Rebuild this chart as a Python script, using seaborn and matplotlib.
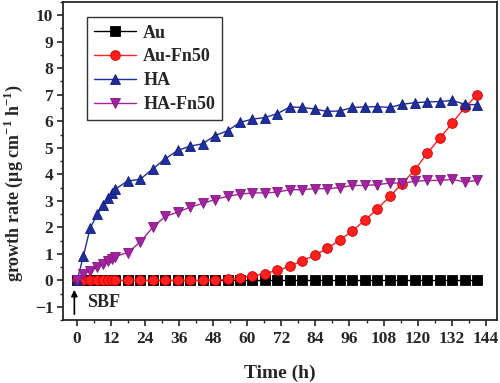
import pandas as pd
import matplotlib
matplotlib.use("Agg")
import matplotlib.pyplot as plt
import seaborn as sns
from matplotlib.ticker import MultipleLocator

# sampling times (h), same for every sample
time_h = [0, 2.2, 4.6, 7.1, 9.0, 10.7, 12.3, 13.3,
          17.8, 22.2, 26.6, 31.0, 35.4, 39.8, 44.2, 48.6, 53.0, 57.4,
          61.8, 66.2, 70.6, 75.0, 79.4, 83.8, 88.2, 92.6, 97.0, 101.4,
          105.8, 110.2, 114.6, 119.0, 123.4, 127.8, 132.2, 136.6, 141.0]

au = [0.0, 0.0, 0.0, 0.0, 0.0, 0.0, 0.0, 0.0,
      0.0, 0.0, 0.0, 0.0, 0.0, 0.0, 0.0, 0.0, 0.0, 0.0,
      0.0, 0.0, 0.0, 0.0, 0.0, 0.0, 0.0, 0.0, 0.0, 0.0,
      0.0, 0.0, 0.0, 0.0, 0.0, 0.0, 0.0, 0.0, 0.0]

au_fn50 = [0.0, 0.0, 0.0, 0.0, 0.0, 0.0, 0.0, 0.0,
           0.0, 0.0, 0.0, 0.0, 0.0, 0.0, 0.0, 0.01, 0.04, 0.10,
           0.16, 0.26, 0.38, 0.53, 0.74, 0.95, 1.21, 1.52, 1.87, 2.27,
           2.69, 3.17, 3.65, 4.17, 4.79, 5.36, 5.92, 6.52, 6.99]

ha = [0.0, 0.93, 1.98, 2.49, 2.84, 3.12, 3.30, 3.43,
      3.75, 3.81, 4.20, 4.58, 4.90, 5.06, 5.15, 5.46, 5.64, 5.96,
      6.08, 6.14, 6.29, 6.54, 6.52, 6.46, 6.37, 6.39, 6.52, 6.54,
      6.55, 6.52, 6.64, 6.70, 6.73, 6.74, 6.79, 6.64, 6.62]

ha_fn50 = [0.0, 0.23, 0.37, 0.50, 0.62, 0.73, 0.81, 0.90,
           1.05, 1.44, 2.00, 2.41, 2.57, 2.76, 2.90, 3.05, 3.17, 3.25,
           3.30, 3.30, 3.33, 3.42, 3.42, 3.46, 3.46, 3.50, 3.58, 3.58,
           3.61, 3.67, 3.67, 3.73, 3.77, 3.77, 3.81, 3.71, 3.77]

samples = ["Au", "Au-Fn50", "HA", "HA-Fn50"]
colors = ["#000000", "#FF1F1F", "#1F2E9A", "#A3229F"]
edge_colors = ["#000000", "#D00000", "#101C80", "#85157F"]
markers = ["s", "o", "^", "v"]

frames = []
for name, vals in zip(samples, [au, au_fn50, ha, ha_fn50]):
    frames.append(pd.DataFrame({"time": time_h, "rate": vals, "sample": name}))
df = pd.concat(frames, ignore_index=True)

sns.set_style("ticks")
plt.rcParams["font.family"] = ["Liberation Serif", "DejaVu Serif"]
plt.rcParams["font.weight"] = "bold"
plt.rcParams["mathtext.fontset"] = "custom"
plt.rcParams["mathtext.rm"] = "Liberation Serif"
plt.rcParams["mathtext.bf"] = "Liberation Serif:bold"

fig = plt.figure(figsize=(5.0, 3.83), dpi=100)
ax = fig.add_axes([0.126, 0.164, 0.868, 0.831])

sns.lineplot(data=df, x="time", y="rate", hue="sample", style="sample",
             hue_order=samples, style_order=samples,
             palette=dict(zip(samples, colors)),
             markers=dict(zip(samples, markers)), dashes=False,
             markersize=7, linewidth=1.0, legend=False, ax=ax)

for line, ec in zip(ax.lines, edge_colors):
    line.set_markeredgecolor(ec)
    line.set_markeredgewidth(0.6)

ax.set_xlim(-5, 148)
ax.set_ylim(-1.5, 10.5)
ax.xaxis.set_major_locator(MultipleLocator(12))
ax.xaxis.set_minor_locator(MultipleLocator(6))
ax.yaxis.set_major_locator(MultipleLocator(1))
ax.yaxis.set_minor_locator(MultipleLocator(0.5))
ax.tick_params(which="major", length=4, width=1.2, labelsize=12.5, direction="out")
ax.tick_params(which="minor", length=2.5, width=1.0, direction="out")
ax.tick_params(axis="y", pad=3)
for lab in ax.get_xticklabels() + ax.get_yticklabels():
    lab.set_fontweight("bold")
for sp in ax.spines.values():
    sp.set_linewidth(1.3)
    sp.set_visible(True)

ax.set_xlabel("Time (h)", fontsize=14, fontweight="bold")
ax.set_ylabel(r"growth rate (μg cm$^{\mathbf{-1}}$ h$^{\mathbf{-1}}$)",
              fontsize=13, fontweight="bold")
ax.xaxis.set_label_coords(0.5, -0.14)
ax.yaxis.set_label_coords(-0.088, 0.43)

ax.legend(ax.lines[:4], samples, loc="upper left", bbox_to_anchor=(0.035, 0.98),
          frameon=True, fancybox=False, edgecolor="#333333", framealpha=1,
          prop={"weight": "bold", "size": 13}, handlelength=2.3,
          labelspacing=0.38, borderpad=0.4, handletextpad=0.4)

ax.annotate("", xy=(-1, -0.25), xytext=(-1, -1.38),
            arrowprops=dict(arrowstyle="-|>", color="black", lw=1.2,
                            mutation_scale=9))
ax.text(3.5, -0.85, "SBF", fontsize=13, fontweight="bold", va="center", ha="left")

fig.savefig("out.png", dpi=100)
